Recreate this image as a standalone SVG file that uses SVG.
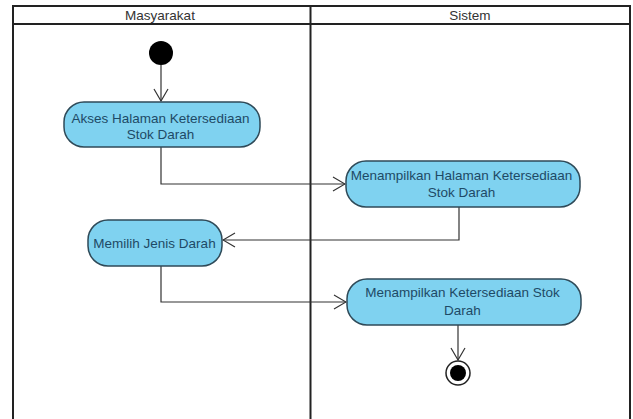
<svg xmlns="http://www.w3.org/2000/svg" width="633" height="419" viewBox="0 0 633 419">
<defs>
<style>
.lane{fill:none;stroke:#222;stroke-width:2}
.hdr{font-family:"Liberation Sans",Arial,sans-serif;font-size:13.5px;fill:#333;text-anchor:middle}
.act{fill:#7fd2f0;stroke:#2f4a58;stroke-width:1.5}
.lbl{font-family:"Liberation Sans",Arial,sans-serif;font-size:13.5px;fill:#1e4a66;text-anchor:middle}
.edge{fill:none;stroke:#333;stroke-width:1.2}
</style>
<marker id="arr" viewBox="0 0 14 18" refX="13" refY="9" markerWidth="14" markerHeight="18" markerUnits="userSpaceOnUse" orient="auto">
<path d="M1,2 L13,9 L1,16" fill="none" stroke="#333" stroke-width="1.2"/>
</marker>
</defs>
<rect width="633" height="419" fill="#fff"/>
<g id="swimlanes">
<path class="lane" d="M13,419 V6 H630 V419"/>
<line class="lane" x1="13" y1="24" x2="630" y2="24"/>
<line class="lane" x1="310.5" y1="6" x2="310.5" y2="419"/>
<text class="hdr" x="160" y="20">Masyarakat</text>
<text class="hdr" x="470" y="20">Sistem</text>
</g>
<g id="connectors">
<line class="edge" x1="161" y1="65" x2="161" y2="101" marker-end="url(#arr)"/>
<path class="edge" d="M161,147 V184 H345" marker-end="url(#arr)"/>
<path class="edge" d="M459,207 V240 H223" marker-end="url(#arr)"/>
<path class="edge" d="M161,266 V302 H346" marker-end="url(#arr)"/>
<line class="edge" x1="458" y1="325" x2="458" y2="360" marker-end="url(#arr)"/>
</g>
<g id="start">
<circle cx="161" cy="53" r="12" fill="#000"/>
</g>
<g id="akses">
<rect class="act" x="64" y="102" width="196" height="45" rx="20"/>
<text class="lbl" x="160.5" y="123">Akses Halaman Ketersediaan</text>
<text class="lbl" x="160.5" y="139">Stok Darah</text>
</g>
<g id="menampilkan-halaman">
<rect class="act" x="346" y="161" width="234" height="46" rx="20"/>
<text class="lbl" x="461.5" y="180">Menampilkan Halaman Ketersediaan</text>
<text class="lbl" x="461.5" y="197">Stok Darah</text>
</g>
<g id="memilih">
<rect class="act" x="88" y="220" width="134" height="46" rx="20"/>
<text class="lbl" x="154.5" y="248">Memilih Jenis Darah</text>
</g>
<g id="menampilkan-stok">
<rect class="act" x="347" y="279" width="234" height="46" rx="20"/>
<text class="lbl" x="462.5" y="297">Menampilkan Ketersediaan Stok</text>
<text class="lbl" x="462.5" y="315">Darah</text>
</g>
<g id="end">
<circle cx="458" cy="373" r="12" fill="#fff" stroke="#222" stroke-width="1.5"/>
<circle cx="458" cy="373" r="8" fill="#000"/>
</g>
</svg>
